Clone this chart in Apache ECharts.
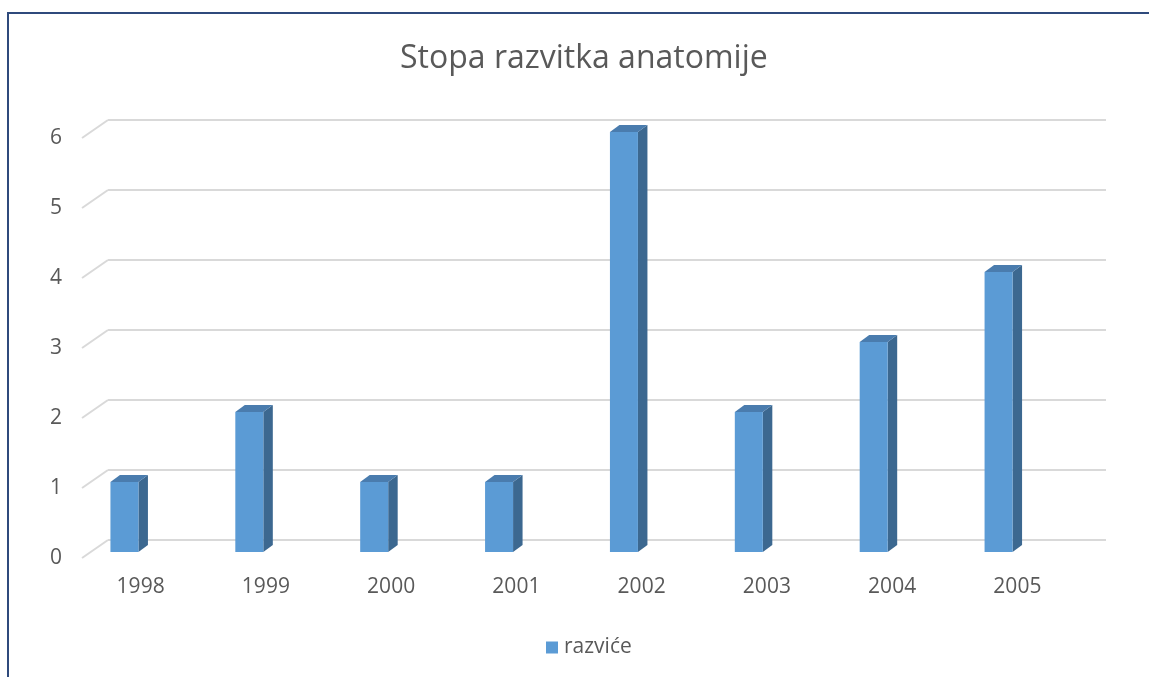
<!DOCTYPE html>
<html>
<head>
<meta charset="utf-8">
<script src="https://cdn.jsdelivr.net/npm/echarts@6/dist/echarts.min.js"></script>
<style>
html,body{margin:0;padding:0;background:#fff;}
#c{width:1149px;height:677px;}
</style>
</head>
<body>
<div id="c"></div>
<script>
const categories = ['1998','1999','2000','2001','2002','2003','2004','2005'];
const values = [1, 2, 1, 1, 6, 2, 3, 4];
const yTicks = [0, 1, 2, 3, 4, 5, 6];
const seriesName = 'razviće';
const titleText = 'Stopa razvitka anatomije';

const FONT = 'Open Sans';
const TXT = '#595959';
const GRID = '#d9d9d9';

const chart = echarts.init(document.getElementById('c'));

function yAx(idx, showLabel) {
  return {
    type: 'value', gridIndex: idx, min: 0, max: 6, interval: 1,
    axisLine: {show: false}, axisTick: {show: false},
    splitLine: {show: idx === 0, lineStyle: {color: GRID, width: 2}},
    axisLabel: {show: showLabel, color: TXT, fontFamily: FONT, fontSize: 21, margin: 16}
  };
}
function xAx(idx, showLabel) {
  return {
    type: 'category', gridIndex: idx, data: categories, boundaryGap: true,
    axisLine: {show: false}, axisTick: {show: false}, splitLine: {show: false},
    axisLabel: {show: showLabel, color: TXT, fontFamily: FONT, fontSize: 21, margin: 19}
  };
}

chart.setOption({
  animation: false,
  backgroundColor: '#fff',
  title: {
    text: titleText, left: 400, top: 43, padding: 0,
    textStyle: {color: TXT, fontFamily: FONT, fontSize: 32, fontWeight: 'normal'}
  },
  legend: {
    data: [{name: seriesName, icon: 'rect'}],
    bottom: 14, left: 541, itemWidth: 12, itemHeight: 12, itemGap: 6,
    textStyle: {color: TXT, fontFamily: FONT, fontSize: 21, padding: [0, 0, 0, 1]}
  },
  graphic: [{
    type: 'rect', silent: true,
    shape: {x: 8, y: 13, width: 1160, height: 700},
    style: {fill: 'none', stroke: '#2F4A7C', lineWidth: 2}
  }],
  grid: [
    {left: 108, right: 43, top: 120, bottom: 137},
    {left: 78, width: 1002, top: 138, bottom: 119},
    {left: 62, width: 999, top: 132, bottom: 125}
  ],
  xAxis: [xAx(0, false), xAx(1, true), xAx(2, false)],
  yAxis: [yAx(0, false), yAx(1, true), yAx(2, false)],
  series: [
    {
      type: 'custom', xAxisIndex: 0, yAxisIndex: 0, silent: true,
      data: yTicks.map(v => [0, v]),
      renderItem: function (params, api) {
        const p = api.coord([0, api.value(1)]);
        const x = params.coordSys.x;
        return {
          type: 'line',
          shape: {x1: x, y1: p[1], x2: x - 26, y2: p[1] + 18},
          style: {stroke: GRID, lineWidth: 2}
        };
      }
    },
    {
      name: seriesName, type: 'custom', xAxisIndex: 2, yAxisIndex: 2,
      itemStyle: {color: '#5B9BD5'},
      data: values.map((v, i) => [i, v]),
      renderItem: function (params, api) {
        const idx = api.value(0);
        const top = api.coord([idx, api.value(1)]);
        const base = api.coord([idx, 0]);
        const w = 28, dx = 9.5, dy = 7;
        const x0 = top[0] - w / 2, x1 = x0 + w, yT = top[1], yB = base[1];
        return {
          type: 'group',
          children: [
            {type: 'polygon', shape: {points: [[x1, yT], [x1 + dx, yT - dy], [x1 + dx, yB - dy], [x1, yB]]},
             style: {fill: '#3C6890'}},
            {type: 'polygon', shape: {points: [[x0, yT], [x0 + dx, yT - dy], [x1 + dx, yT - dy], [x1, yT]]},
             style: {fill: '#4A7CAE'}},
            {type: 'rect', shape: {x: x0, y: yT, width: w, height: yB - yT},
             style: {fill: '#5B9BD5'}}
          ]
        };
      }
    }
  ]
});
</script>
</body>
</html>
